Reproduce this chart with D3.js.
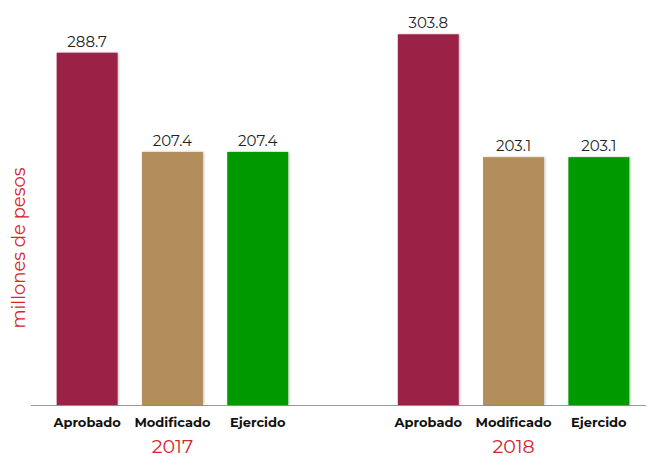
<!DOCTYPE html>
<html><head><meta charset="utf-8">
<script src="https://cdn.jsdelivr.net/npm/d3@7"></script>
<style>body{margin:0;background:#fff;} svg{display:block;}</style>
</head><body>
<svg id="chart" width="647" height="458"></svg>
<script>
const years = ["2017", "2018"];
const categories = ["Aprobado", "Modificado", "Ejercido"];
const values2017 = [288.7, 207.4, 207.4];
const values2018 = [303.8, 203.1, 203.1];
const colors = ["#9b2247", "#b38e5d", "#009a00"];
const yTitle = "millones de pesos";

const seriesByYear = {"2017": values2017, "2018": values2018};
const svg = d3.select("#chart");
const baseY = 405;
const font = "'Montserrat','Open Sans','Noto Sans',sans-serif";

const x0 = d3.scaleBand().domain(years).range([44.5, 641.5]).paddingInner(0.25).paddingOuter(0);
const x1 = d3.scaleBand().domain(categories).range([0, x0.bandwidth()]).paddingInner(0.285).paddingOuter(0.1425);
const y = d3.scaleLinear().domain([0, 288.7]).range([baseY, 52.7]);

const defs = svg.append("defs");
const f = defs.append("filter").attr("id","sh").attr("x","-10%").attr("y","-10%").attr("width","130%").attr("height","130%");
f.append("feDropShadow").attr("dx",1).attr("dy",0).attr("stdDeviation",0.8).attr("flood-color","#000").attr("flood-opacity",0.25);

svg.append("line").attr("x1",31).attr("x2",646).attr("y1",baseY+0.5).attr("y2",baseY+0.5)
  .attr("stroke","#999").attr("stroke-width",1.2);

years.forEach(yr => {
  const g = svg.append("g").attr("transform",`translate(${x0(yr)},0)`);
  const data = categories.map((c,i)=>({c, v: seriesByYear[yr][i], col: colors[i]}));
  g.selectAll("rect").data(data).join("rect")
    .attr("x", d=>x1(d.c)).attr("width", x1.bandwidth())
    .attr("y", d=>y(d.v)).attr("height", d=>baseY - y(d.v))
    .attr("fill", d=>d.col).attr("filter","url(#sh)");
  g.selectAll("text.val").data(data).join("text").attr("class","val")
    .attr("x", d=>x1(d.c)+x1.bandwidth()/2).attr("y", d=>y(d.v)-6)
    .attr("text-anchor","middle").attr("font-family",font).attr("font-size",15).attr("fill","#222")
    .text(d=>d.v.toFixed(1));
  g.selectAll("text.cat").data(data).join("text").attr("class","cat")
    .attr("x", d=>x1(d.c)+x1.bandwidth()/2).attr("y", 427)
    .attr("text-anchor","middle").attr("font-family",font).attr("font-size",13).attr("font-weight","bold").attr("fill","#111")
    .text(d=>d.c);
  g.append("text").attr("x", x0.bandwidth()/2).attr("y", 453)
    .attr("text-anchor","middle").attr("font-family",font).attr("font-size",19).attr("fill","#d4252c")
    .text(yr);
});

svg.append("text").attr("transform","translate(25,248) rotate(-90)")
  .attr("text-anchor","middle").attr("font-family",font).attr("font-size",18).attr("fill","#d4252c")
  .text(yTitle);
</script>
</body></html>
